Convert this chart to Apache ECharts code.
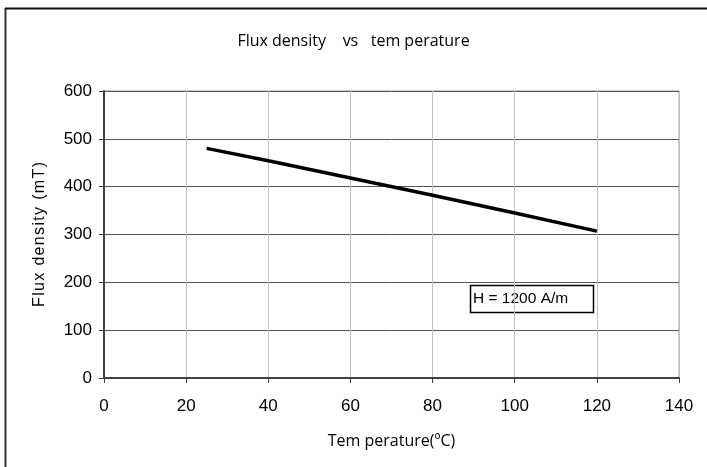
<!DOCTYPE html>
<html>
<head>
<meta charset="utf-8">
<script src="https://cdn.jsdelivr.net/npm/echarts@6/dist/echarts.min.js"></script>
<style>html,body{margin:0;padding:0;background:#fff}#c{width:707px;height:467px}</style>
</head>
<body>
<div id="c"></div>
<script>
const temperature = [25, 40, 60, 80, 100, 120];
const fluxDensity = [480, 454, 418, 382, 345, 307];
const xTicks = [0, 20, 40, 60, 80, 100, 120, 140];
const yTicks = [0, 100, 200, 300, 400, 500, 600];
const titleText = 'Flux density    vs   tem perature';
const xName = 'Tem perature(\u00BAC)';
const yName = 'Flux density (mT)'.split('').join('\u200A');
const noteText = 'H = 1200 A/m';

const chart = echarts.init(document.getElementById('c'));
const font = 'Liberation Sans, Arial, sans-serif';
chart.setOption({
  animation: false,
  backgroundColor: '#fff',
  title: {
    text: titleText, left: 'center', top: 28,
    textStyle: { fontFamily: 'Open Sans, sans-serif', fontSize: 16, fontWeight: 'normal', color: '#000' }
  },
  grid: { left: 104, right: 28, top: 91, bottom: 89, show: true, borderColor: '#a0a0a0', borderWidth: 1 },
  xAxis: {
    type: 'value', min: xTicks[0], max: xTicks[xTicks.length - 1], interval: 20,
    name: xName, nameLocation: 'middle', nameGap: 55,
    nameTextStyle: { fontFamily: 'Open Sans, sans-serif', fontSize: 16, color: '#000' },
    axisLine: { lineStyle: { color: '#404040', width: 2 } },
    axisTick: { show: true, length: 5, lineStyle: { color: '#404040', width: 1 } },
    axisLabel: { fontFamily: font, fontSize: 17, color: '#000', margin: 20 },
    splitLine: { show: true, lineStyle: { color: '#c0c0c0', width: 1 } }
  },
  yAxis: {
    type: 'value', min: yTicks[0], max: yTicks[yTicks.length - 1], interval: 100,
    name: yName, nameLocation: 'middle', nameGap: 56, nameRotate: 90,
    nameTextStyle: { fontFamily: font, fontSize: 16, color: '#000' },
    axisLine: { show: true, lineStyle: { color: '#404040', width: 2 } },
    axisTick: { show: true, length: 5, lineStyle: { color: '#404040', width: 1 } },
    axisLabel: { fontFamily: font, fontSize: 17, color: '#000', margin: 12 },
    splitLine: { show: true, lineStyle: { color: '#555', width: 1 } }
  },
  series: [{
    type: 'line', name: noteText,
    data: temperature.map((t, i) => [t, fluxDensity[i]]),
    symbol: 'none', lineStyle: { color: '#000', width: 3.5 }
  }],
  graphic: [
    { type: 'line', shape: { x1: 5.5, y1: 8, x2: 5.5, y2: 467 }, style: { stroke: '#333', lineWidth: 2 } },
    { type: 'line', shape: { x1: 5, y1: 8.5, x2: 707, y2: 8.5 }, style: { stroke: '#111', lineWidth: 2 } },
    { type: 'rect', shape: { x: 470.5, y: 285.5, width: 123, height: 27 }, style: { fill: '#fff', stroke: '#000', lineWidth: 1.5 } },
    { type: 'text', x: 473, y: 299, style: { text: noteText, fontFamily: font, fontSize: 15.5, fill: '#000', verticalAlign: 'middle' } }
  ]
});
</script>
</body>
</html>
